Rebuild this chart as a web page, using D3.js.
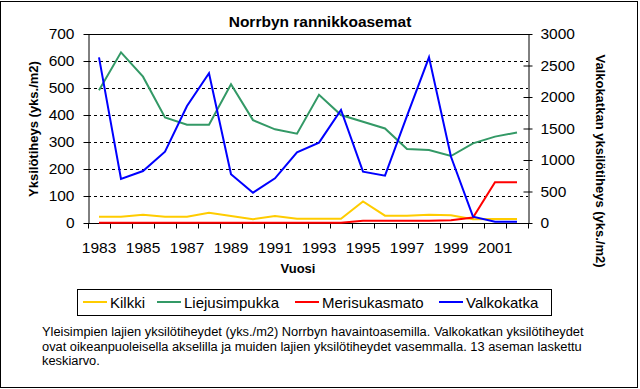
<!DOCTYPE html>
<html>
<head>
<meta charset="utf-8">
<title>Norrbyn rannikkoasemat</title>
<style>
  body { margin: 0; background: #fff; }
  svg text { font-family: "Liberation Sans", Arial, sans-serif; }
</style>
</head>
<body>
<script src="https://d3js.org/d3.v7.min.js"></script>
<script>
// data
var years = [1983, 1984, 1985, 1986, 1987, 1988, 1989, 1990, 1991, 1992,
             1993, 1994, 1995, 1996, 1997, 1998, 1999, 2000, 2001, 2002];
var kilkki = [23, 23, 31, 23, 23, 38, 26, 14, 26, 16, 16, 16, 80, 27, 27, 31, 29, 14, 15, 15];
var liejusimpukka = [492, 632, 542, 391, 364, 364, 514, 381, 347, 331, 475, 400, 375, 350, 274, 270, 248, 295, 320, 335];
var merisukasmato = [1, 1, 1, 1, 1, 1, 1, 1, 1, 1, 1, 1, 8, 8, 8, 8, 10, 20, 151, 151];
var valkokatka = [2630, 698, 825, 1132, 1857, 2376, 773, 481, 709, 1122, 1275, 1794, 815, 751, 1700, 2630, 1052, 100, 20, 20];
var leftTicks = [0, 100, 200, 300, 400, 500, 600, 700];
var rightTicks = [0, 500, 1000, 1500, 2000, 2500, 3000];
var seriesNames = ["Kilkki", "Liejusimpukka", "Merisukasmato", "Valkokatka"];
var seriesColors = ["#FFCC00", "#339966", "#FF0000", "#0000FF"];
var caption = [
  "Yleisimpien lajien yksilötiheydet (yks./m2) Norrbyn havaintoasemilla. Valkokatkan yksilötiheydet",
  "ovat oikeanpuoleisella akselilla ja muiden lajien yksilötiheydet vasemmalla. 13 aseman laskettu",
  "keskiarvo."
];

var width = 640, height = 389;
var plotL = 88, plotR = 528, plotT = 34, plotB = 223;

var svg = d3.select("body").append("svg")
    .attr("width", width)
    .attr("height", height);

// outer frame
svg.append("rect")
    .attr("x", 0.5).attr("y", 1.5)
    .attr("width", 637).attr("height", 386)
    .attr("fill", "none").attr("stroke", "#000");

var x = d3.scaleBand().domain(years).range([plotL, plotR]).padding(0);
var yL = d3.scaleLinear().domain([0, 700]).range([plotB, plotT]);
var yR = d3.scaleLinear().domain([0, 3000]).range([plotB, plotT]);

// gridlines (left axis)
svg.append("g").selectAll("line")
    .data(leftTicks.filter(function(d) { return d > 0 && d < 700; }))
    .enter().append("line")
    .attr("x1", plotL).attr("x2", plotR)
    .attr("y1", function(d) { return Math.round(yL(d)) + 0.5; })
    .attr("y2", function(d) { return Math.round(yL(d)) + 0.5; })
    .attr("stroke", "#000")
    .attr("stroke-dasharray", "3,3");

// plot top border
svg.append("line")
    .attr("x1", plotL).attr("x2", plotR)
    .attr("y1", plotT + 0.5).attr("y2", plotT + 0.5)
    .attr("stroke", "#000");

// left axis
var gL = svg.append("g")
    .attr("transform", "translate(" + (plotL + 0.5) + ",0)")
    .call(d3.axisLeft(yL).tickValues(leftTicks).tickFormat(d3.format("d"))
        .tickSize(5).tickPadding(9).tickSizeOuter(0));

// right axis, ticks cross the line
var gR = svg.append("g")
    .attr("transform", "translate(" + (plotR + 0.5) + ",0)")
    .call(d3.axisRight(yR).tickValues(rightTicks).tickFormat(d3.format("d"))
        .tickSize(4).tickPadding(8).tickSizeOuter(0));
gR.selectAll(".tick line").attr("x1", -5);

// bottom axis: labels every other year, ticks at category edges
var gB = svg.append("g")
    .attr("transform", "translate(0," + (plotB + 0.5) + ")")
    .call(d3.axisBottom(x)
        .tickValues(years.filter(function(d, i) { return i % 2 === 0; }))
        .tickSize(0).tickPadding(18).tickSizeOuter(0));
gB.select(".domain").attr("d", "M" + plotL + ",0H" + plotR);
gB.selectAll(".edge")
    .data(years.concat(["end"]))
    .enter().append("line")
    .attr("class", "edge")
    .attr("x1", function(d) { return d === "end" ? plotR + 0.5 : Math.round(x(d)) + 0.5; })
    .attr("x2", function(d) { return d === "end" ? plotR + 0.5 : Math.round(x(d)) + 0.5; })
    .attr("y1", 0).attr("y2", 5)
    .attr("stroke", "#000");

[gL, gR, gB].forEach(function(g) {
  g.selectAll("text").attr("font-size", 15.5).attr("fill", "#000")
      .style("font-family", '"Liberation Sans", Arial, sans-serif');
  g.selectAll("line, path").attr("stroke", "#000");
});

// series
var cx = function(d, i) { return x(years[i]) + x.bandwidth() / 2; };
var series = [
  { values: kilkki, scale: yL },
  { values: liejusimpukka, scale: yL },
  { values: merisukasmato, scale: yL },
  { values: valkokatka, scale: yR }
];
series.forEach(function(s, k) {
  var line = d3.line()
      .x(cx)
      .y(function(d) { return s.scale(d); });
  svg.append("path")
      .datum(s.values)
      .attr("d", line)
      .attr("fill", "none")
      .attr("stroke", seriesColors[k])
      .attr("stroke-width", 2)
      .attr("stroke-linejoin", "miter");
});

// titles
svg.append("text")
    .attr("x", 320).attr("y", 27)
    .attr("text-anchor", "middle")
    .attr("font-size", 15.5).attr("font-weight", "bold")
    .text("Norrbyn rannikkoasemat");

svg.append("text")
    .attr("transform", "translate(38,129) rotate(-90)")
    .attr("text-anchor", "middle")
    .attr("font-size", 13).attr("font-weight", "bold")
    .text("Yksilötiheys (yks./m2)");

svg.append("text")
    .attr("transform", "translate(596,161) rotate(90)")
    .attr("text-anchor", "middle")
    .attr("font-size", 13).attr("font-weight", "bold")
    .text("Valkokatkan yksilötiheys (yks./m2)");

svg.append("text")
    .attr("x", 298).attr("y", 273)
    .attr("text-anchor", "middle")
    .attr("font-size", 13).attr("font-weight", "bold")
    .text("Vuosi");

// legend
svg.append("rect")
    .attr("x", 77.5).attr("y", 289.5)
    .attr("width", 474).attr("height", 26)
    .attr("fill", "#fff").attr("stroke", "#000");
var legendX = [83, 157, 295, 439];
var lg = svg.append("g").selectAll("g")
    .data(seriesNames)
    .enter().append("g")
    .attr("transform", function(d, i) { return "translate(" + legendX[i] + ",302)"; });
lg.append("line")
    .attr("x1", 0).attr("x2", 24)
    .attr("stroke", function(d, i) { return seriesColors[i]; })
    .attr("stroke-width", 2);
lg.append("text")
    .attr("x", 27).attr("y", 5.5)
    .attr("font-size", 15)
    .text(function(d) { return d; });

// caption
svg.append("g").selectAll("text")
    .data(caption)
    .enter().append("text")
    .attr("x", 42)
    .attr("y", function(d, i) { return 336 + i * 14.7; })
    .attr("font-size", 12.85)
    .text(function(d) { return d; });
</script>
</body>
</html>
